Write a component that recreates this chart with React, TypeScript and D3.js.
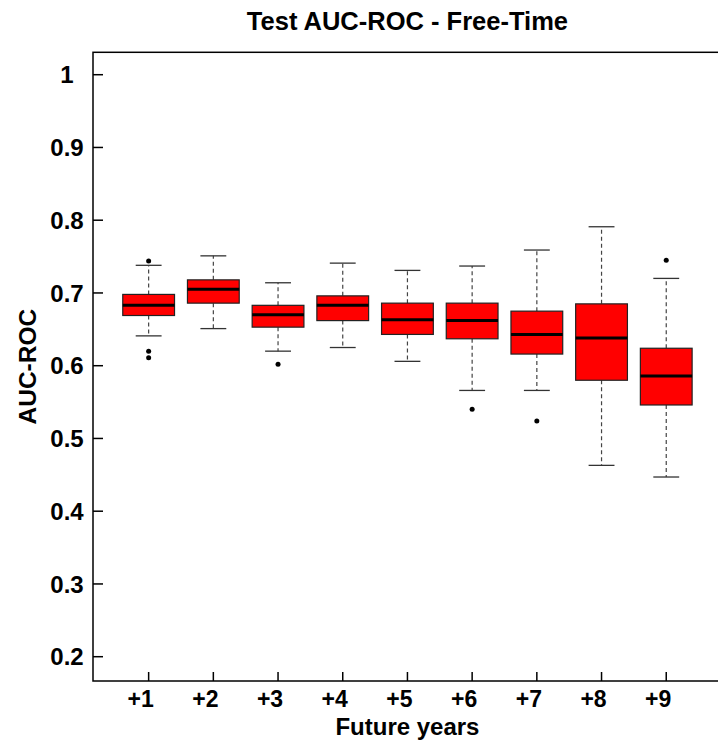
import React from "react";
import * as d3 from "d3";

const categories = ["+1", "+2", "+3", "+4", "+5", "+6", "+7", "+8", "+9"];
const whiskerLow = [0.641, 0.651, 0.62, 0.625, 0.606, 0.566, 0.566, 0.463, 0.447];
const q1 = [0.669, 0.686, 0.653, 0.662, 0.643, 0.637, 0.616, 0.58, 0.546];
const median = [0.683, 0.705, 0.67, 0.683, 0.663, 0.662, 0.643, 0.638, 0.586];
const q3 = [0.698, 0.718, 0.683, 0.696, 0.686, 0.686, 0.675, 0.685, 0.624];
const whiskerHigh = [0.738, 0.751, 0.714, 0.741, 0.731, 0.737, 0.759, 0.791, 0.72];
const outliers: number[][] = [[0.744, 0.62, 0.611], [], [0.602], [], [], [0.54], [0.524], [], [0.745]];
const yTicks = [0.2, 0.3, 0.4, 0.5, 0.6, 0.7, 0.8, 0.9, 1];
const yTickLabels = ["0.2", "0.3", "0.4", "0.5", "0.6", "0.7", "0.8", "0.9", "1"];

const W = 718;
const H = 742;
const FONT = "'Liberation Sans', Arial, sans-serif";

export default function App() {
  const x = d3.scaleLinear().domain([0.14, 9.86]).range([93, 93 + 9.72 * 64.7]);
  const y = d3.scaleLinear().domain([0.1666, 1.0308]).range([681, 52.3]);
  const boxHalf = x(1.4) - x(1);
  const capHalf = x(1.2) - x(1);
  const [x0, x1] = x.range();
  const [yb, yt] = y.range();

  return (
    <svg width={W} height={H} style={{ position: "absolute", left: 0, top: 0, background: "#fff" }} fontFamily={FONT}>
      <rect x={0} y={0} width={W} height={H} fill="#fff" />
      <text x={(x0 + x1) / 2} y={30} textAnchor="middle" fontSize={25.5} fontWeight="bold">Test AUC-ROC - Free-Time</text>
      {categories.map((c, i) => {
        const cx = x(i + 1);
        return (
          <g key={c}>
            <line x1={cx} x2={cx} y1={y(q3[i])} y2={y(whiskerHigh[i])} stroke="#444" strokeWidth={1.2} strokeDasharray="4,3" />
            <line x1={cx} x2={cx} y1={y(q1[i])} y2={y(whiskerLow[i])} stroke="#444" strokeWidth={1.2} strokeDasharray="4,3" />
            <line x1={cx - capHalf} x2={cx + capHalf} y1={y(whiskerHigh[i])} y2={y(whiskerHigh[i])} stroke="#333" strokeWidth={1.3} />
            <line x1={cx - capHalf} x2={cx + capHalf} y1={y(whiskerLow[i])} y2={y(whiskerLow[i])} stroke="#333" strokeWidth={1.3} />
            <rect x={cx - boxHalf} y={y(q3[i])} width={2 * boxHalf} height={y(q1[i]) - y(q3[i])} fill="#ff0000" stroke="#222" strokeWidth={1.2} />
            <line x1={cx - boxHalf} x2={cx + boxHalf} y1={y(median[i])} y2={y(median[i])} stroke="#000" strokeWidth={3} />
            {outliers[i].map((o, j) => (
              <circle key={j} cx={cx} cy={y(o)} r={2.5} fill="#000" />
            ))}
          </g>
        );
      })}
      <rect x={x0} y={yt} width={x1 - x0} height={yb - yt} fill="none" stroke="#000" strokeWidth={1.5} />
      {yTicks.map((t, i) => (
        <g key={t}>
          <line x1={x0} x2={x0 + 10} y1={y(t)} y2={y(t)} stroke="#000" strokeWidth={1.5} />
          <text x={67} y={y(t)} dy="0.36em" textAnchor="middle" fontSize={24} fontWeight="bold">{yTickLabels[i]}</text>
        </g>
      ))}
      {categories.map((c, i) => (
        <g key={c}>
          <line x1={x(i + 1)} x2={x(i + 1)} y1={yb} y2={yb - 9} stroke="#000" strokeWidth={1.5} />
          <text x={x(i + 1) - 8} y={707} textAnchor="middle" fontSize={23} fontWeight="bold">{c}</text>
        </g>
      ))}
      <text x={(x0 + x1) / 2} y={735} textAnchor="middle" fontSize={24} fontWeight="bold">Future years</text>
      <text transform={`translate(36, ${(yb + yt) / 2}) rotate(-90)`} textAnchor="middle" fontSize={24.5} fontWeight="bold">AUC-ROC</text>
    </svg>
  );
}
